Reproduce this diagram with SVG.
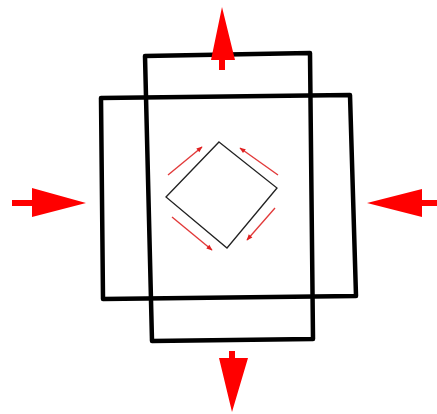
<svg xmlns="http://www.w3.org/2000/svg" width="437" height="414" viewBox="0 0 437 414">
<defs>
<style>
.frame{fill:none;stroke:#000;stroke-width:4.5;stroke-linejoin:round}
.dia{fill:none;stroke:#222;stroke-width:1.3}
.big{fill:#ff0000;stroke:none}
.small{stroke:#e23a3a;stroke-width:1.4;fill:none}
</style>
<marker id="sh" viewBox="0 0 10 10" refX="9" refY="5" markerWidth="8" markerHeight="6" orient="auto" markerUnits="userSpaceOnUse">
<path d="M0,1 L10,5 L0,9 Z" fill="#e01f1f"/>
</marker>
</defs>
<rect width="437" height="414" fill="#fff"/>
<g id="tall-frame"><path class="frame" d="M145,56 L310,53 L313,339 L152,341 Z"/></g>
<g id="wide-frame"><path class="frame" d="M101,98 L350,95 L356,296 L103,299 Z"/></g>
<g id="diamond"><path class="dia" d="M219,142 L277,188 L227,248 L166,197 Z"/></g>
<g id="connectors">
<line class="small" x1="168" y1="175" x2="202" y2="147" marker-end="url(#sh)"/>
<line class="small" x1="278" y1="175" x2="240" y2="148" marker-end="url(#sh)"/>
<line class="small" x1="172" y1="217" x2="212" y2="250" marker-end="url(#sh)"/>
<line class="small" x1="275" y1="208" x2="247" y2="240" marker-end="url(#sh)"/>
</g>
<g id="arrow-top"><path class="big" d="M222,7 L235,60 L225,60 L225,70 L219,70 L219,60 L211,60 Z"/></g>
<g id="arrow-bottom"><path class="big" d="M232,412 L248,358 L235,358 L235,351 L229,351 L229,358 L219,358 Z"/></g>
<g id="arrow-left"><path class="big" d="M86,203 L32,188 L32,200 L12,200 L12,206 L32,206 L32,217 Z"/></g>
<g id="arrow-right"><path class="big" d="M367,203 L422,189 L422,200 L437,200 L437,206 L422,206 L422,217 Z"/></g>
</svg>
